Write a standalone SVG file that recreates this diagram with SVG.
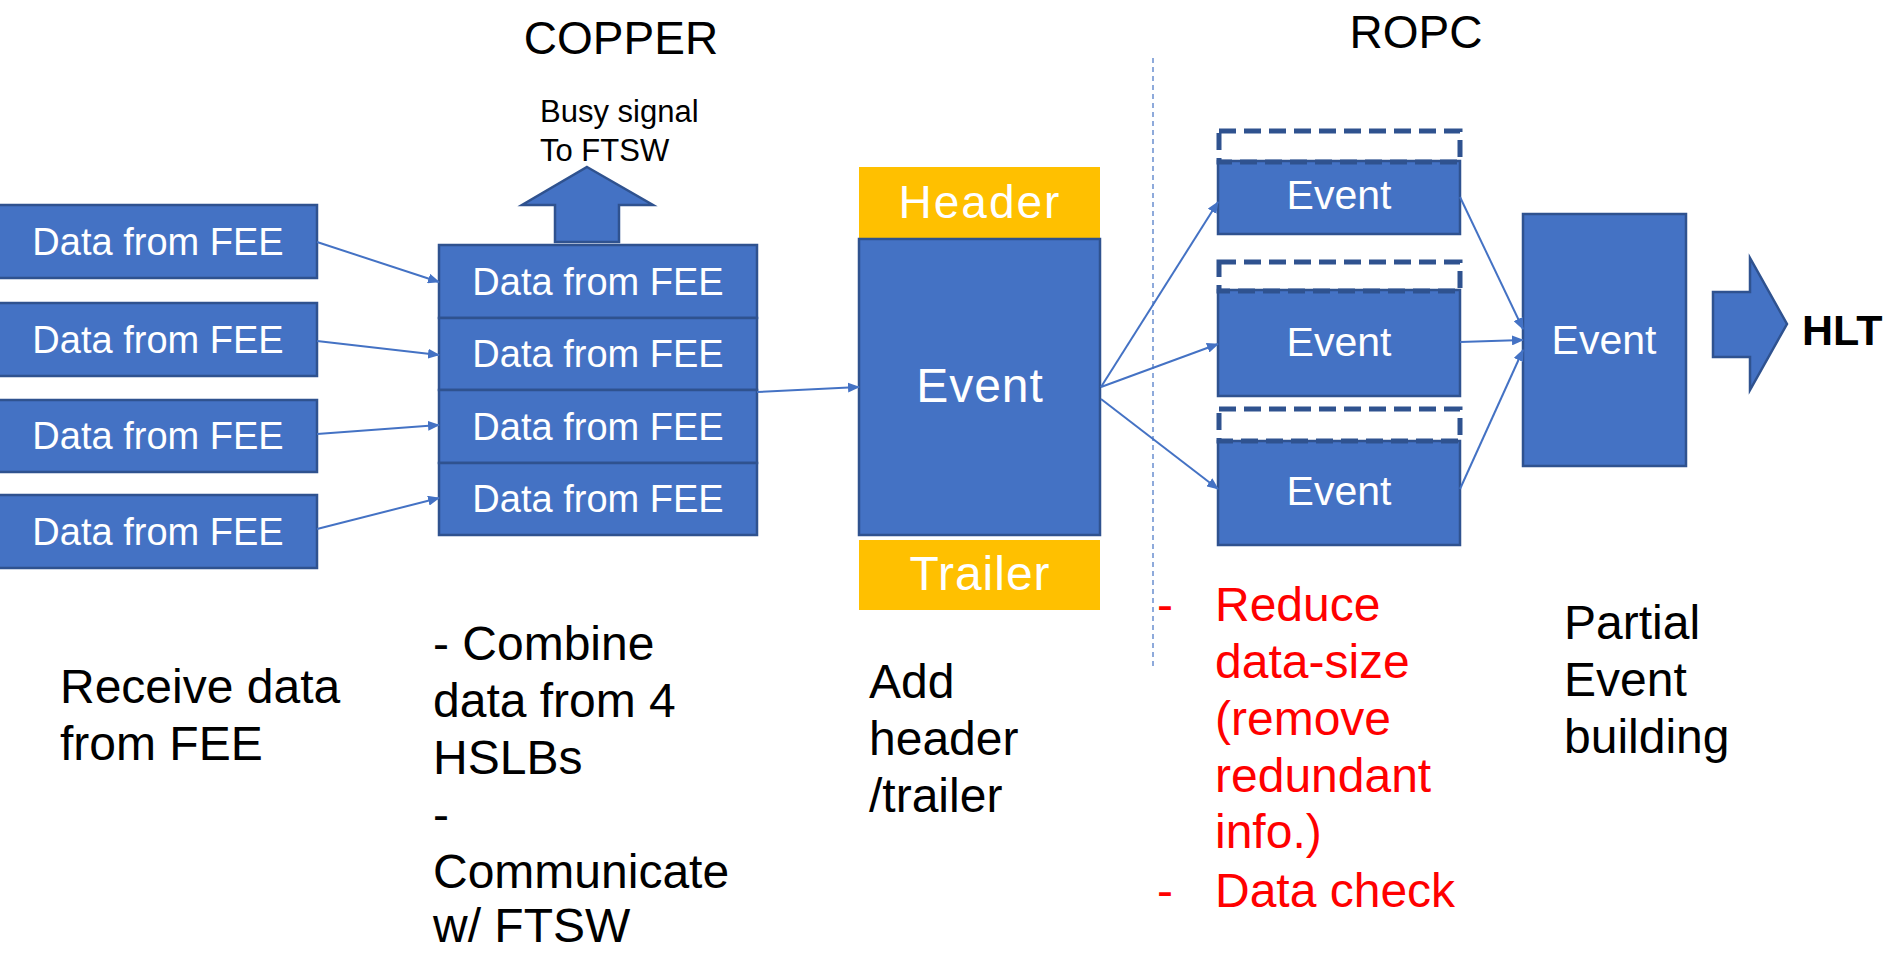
<svg xmlns="http://www.w3.org/2000/svg" width="1895" height="954" viewBox="0 0 1895 954">
  <defs>
    <marker id="arr" viewBox="0 0 12 10" refX="11" refY="5" markerWidth="12" markerHeight="10" markerUnits="userSpaceOnUse" orient="auto">
      <path d="M0,0 L12,5 L0,10 Z" fill="#4472C4"/>
    </marker>
    <style>
      .box { fill: #4472C4; stroke: #2F528F; stroke-width: 2.5; }
      .yel { fill: #FFC000; }
      .dash { fill: none; stroke: #2F528F; stroke-width: 5; stroke-dasharray: 17 8; }
      .wt { fill: #FFFFFF; font-family: "Liberation Sans", Arial, sans-serif; text-anchor: middle; }
      .bk { fill: #000000; font-family: "Liberation Sans", Arial, sans-serif; }
      .rd { fill: #FF0000; font-family: "Liberation Sans", Arial, sans-serif; font-size: 48px; }
      .conn line { stroke: #4472C4; stroke-width: 2; marker-end: url(#arr); }
    </style>
  </defs>
  <rect width="1895" height="954" fill="#FFFFFF"/>

  <!-- section titles -->
  <text class="bk" x="621" y="54" font-size="46" text-anchor="middle">COPPER</text>
  <text class="bk" x="1416" y="48" font-size="46" text-anchor="middle">ROPC</text>

  <!-- divider between COPPER and ROPC -->
  <line x1="1153" y1="58" x2="1153" y2="667" stroke="#4472C4" stroke-width="1.2" stroke-dasharray="5 4"/>

  <!-- front-end inputs -->
  <g id="fee1"><rect class="box" x="-2" y="205" width="319" height="73"/><text class="wt" x="158" y="255" font-size="38">Data from FEE</text></g>
  <g id="fee2"><rect class="box" x="-2" y="303" width="319" height="73"/><text class="wt" x="158" y="353" font-size="38">Data from FEE</text></g>
  <g id="fee3"><rect class="box" x="-2" y="400" width="319" height="72"/><text class="wt" x="158" y="449" font-size="38">Data from FEE</text></g>
  <g id="fee4"><rect class="box" x="-2" y="495" width="319" height="73"/><text class="wt" x="158" y="545" font-size="38">Data from FEE</text></g>

  <!-- COPPER combined block -->
  <g id="copper">
    <rect class="box" x="439" y="245" width="318" height="73"/>
    <rect class="box" x="439" y="318" width="318" height="72"/>
    <rect class="box" x="439" y="390" width="318" height="73"/>
    <rect class="box" x="439" y="463" width="318" height="72"/>
    <text class="wt" x="598" y="295" font-size="38">Data from FEE</text>
    <text class="wt" x="598" y="367" font-size="38">Data from FEE</text>
    <text class="wt" x="598" y="440" font-size="38">Data from FEE</text>
    <text class="wt" x="598" y="512" font-size="38">Data from FEE</text>
  </g>

  <!-- busy signal -->
  <g id="busy">
    <polygon class="box" points="587,167 653,205 619,205 619,242 555,242 555,205 522,205"/>
    <text class="bk" x="540" y="122" font-size="31">Busy signal</text>
    <text class="bk" x="540" y="161" font-size="31">To FTSW</text>
  </g>

  <!-- formatted event -->
  <g id="event">
    <rect class="yel" x="859" y="167" width="241" height="71"/>
    <rect class="box" x="859" y="239" width="241" height="296"/>
    <rect class="yel" x="859" y="540" width="241" height="70"/>
    <text class="wt" x="980" y="218" font-size="46" letter-spacing="2">Header</text>
    <text class="wt" x="980" y="402" font-size="48" letter-spacing="1">Event</text>
    <text class="wt" x="980" y="590" font-size="48" letter-spacing="1">Trailer</text>
  </g>

  <!-- ROPC events with reduced headers -->
  <g id="ropc1">
    <rect class="box" x="1218" y="161" width="242" height="73"/>
    <rect class="dash" x="1219" y="131" width="241" height="31"/>
    <text class="wt" x="1339" y="209" font-size="41">Event</text>
  </g>
  <g id="ropc2">
    <rect class="box" x="1218" y="290" width="242" height="106"/>
    <rect class="dash" x="1219" y="262" width="241" height="29"/>
    <text class="wt" x="1339" y="356" font-size="41">Event</text>
  </g>
  <g id="ropc3">
    <rect class="box" x="1218" y="441" width="242" height="104"/>
    <rect class="dash" x="1219" y="409" width="241" height="32"/>
    <text class="wt" x="1339" y="505" font-size="41">Event</text>
  </g>

  <!-- partial event building -->
  <g id="partial">
    <rect class="box" x="1523" y="214" width="163" height="252"/>
    <text class="wt" x="1604" y="354" font-size="41">Event</text>
  </g>

  <!-- output to HLT -->
  <g id="hlt">
    <polygon class="box" points="1713,292 1750,292 1750,258 1787,324 1750,390 1750,357 1713,357"/>
    <text class="bk" x="1802" y="345" font-size="43" font-weight="bold">HLT</text>
  </g>

  <!-- connectors -->
  <g id="connectors" class="conn">
    <line x1="317" y1="242" x2="439" y2="282"/>
    <line x1="317" y1="341" x2="439" y2="355"/>
    <line x1="317" y1="434" x2="439" y2="425"/>
    <line x1="317" y1="529" x2="439" y2="498"/>
    <line x1="757" y1="392" x2="859" y2="387"/>
    <line x1="1101" y1="387" x2="1218" y2="202"/>
    <line x1="1101" y1="387" x2="1218" y2="344"/>
    <line x1="1101" y1="399" x2="1218" y2="489"/>
    <line x1="1460" y1="197" x2="1523" y2="329"/>
    <line x1="1460" y1="342" x2="1523" y2="340"/>
    <line x1="1460" y1="489" x2="1523" y2="350"/>
  </g>

  <!-- stage descriptions -->
  <g id="desc-fee" class="bk" font-size="48">
    <text x="60" y="703">Receive data</text>
    <text x="60" y="760">from FEE</text>
  </g>
  <g id="desc-copper" class="bk" font-size="48">
    <text x="433" y="660">- Combine</text>
    <text x="433" y="717">data from 4</text>
    <text x="433" y="774">HSLBs</text>
    <text x="433" y="831">-</text>
    <text x="433" y="888">Communicate</text>
    <text x="433" y="942">w/ FTSW</text>
  </g>
  <g id="desc-event" class="bk" font-size="48">
    <text x="869" y="698">Add</text>
    <text x="869" y="755">header</text>
    <text x="869" y="812">/trailer</text>
  </g>
  <g id="desc-ropc" class="rd">
    <text x="1157" y="621">-</text>
    <text x="1215" y="621">Reduce</text>
    <text x="1215" y="678">data-size</text>
    <text x="1215" y="735">(remove</text>
    <text x="1215" y="792">redundant</text>
    <text x="1215" y="848">info.)</text>
    <text x="1157" y="907">-</text>
    <text x="1215" y="907">Data check</text>
  </g>
  <g id="desc-partial" class="bk" font-size="48">
    <text x="1564" y="639">Partial</text>
    <text x="1564" y="696">Event</text>
    <text x="1564" y="753">building</text>
  </g>
</svg>
